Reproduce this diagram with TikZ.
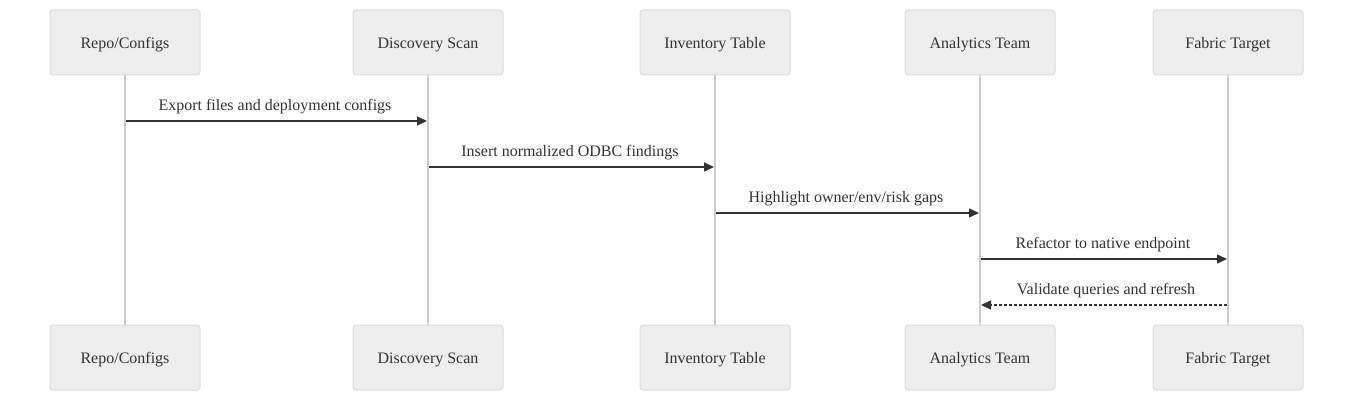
\documentclass[tikz,border=0pt]{standalone}
\usepackage{fontspec}
\setmainfont{Liberation Serif}
\usetikzlibrary{arrows.meta}
\definecolor{boxfill}{HTML}{EEEEEE}
\definecolor{boxline}{HTML}{DDDDDD}
\definecolor{lifeline}{HTML}{CCCCCC}
\definecolor{msgcol}{HTML}{333333}
\begin{document}
\begin{tikzpicture}[x=1pt,y=-1pt,
  actor/.style={draw=boxline,fill=boxfill,rounded corners=3pt,minimum width=150pt,minimum height=65pt,inner sep=0pt,font=\fontsize{16}{19}\selectfont,text=msgcol,line width=1pt,text height=13pt,text depth=1pt},
  life/.style={draw=lifeline,line width=1.5pt},
  msg/.style={draw=msgcol,line width=1.5pt,-{Triangle[length=10pt,width=9pt]}},
  reply/.style={msg,dash pattern=on 3pt off 2pt},
  lbl/.style={font=\fontsize{16}{19}\selectfont,text=msgcol,inner sep=0pt}]
\useasboundingbox (0,0) rectangle (1353,401);
\foreach \n/\x/\t in {a/125/Repo\slash Configs,b/428/Discovery Scan,c/715/Inventory Table,d/980/Analytics Team,e/1228/Fabric Target}{
  \draw[life] (\x,75) -- (\x,325);
  \node[actor] (\n top) at (\x,42.5) {\t};
  \node[actor] (\n bot) at (\x,357.5) {\t};
}
\coordinate (a1) at (126,121); \coordinate (b1) at (427,121);
\coordinate (b2) at (429,167); \coordinate (c2) at (714,167);
\coordinate (c3) at (716,213); \coordinate (d3) at (979,213);
\coordinate (d4) at (981,259); \coordinate (e4) at (1227,259);
\coordinate (d5) at (981,305); \coordinate (e5) at (1227,305);
\draw[msg] (a1) -- (b1);
\draw[msg] (b2) -- (c2);
\draw[msg] (c3) -- (d3);
\draw[msg] (d4) -- (e4);
\draw[reply] (e5) -- (d5);
\node[lbl] at (275,106.5) {Export files and deployment configs};
\node[lbl] at (570,152.5) {Insert normalized ODBC findings};
\node[lbl] at (846,198.5) {Highlight owner/env/risk gaps};
\node[lbl] at (1103,244.5) {Refactor to native endpoint};
\node[lbl] at (1106,290.5) {Validate queries and refresh};
\end{tikzpicture}
\end{document}
